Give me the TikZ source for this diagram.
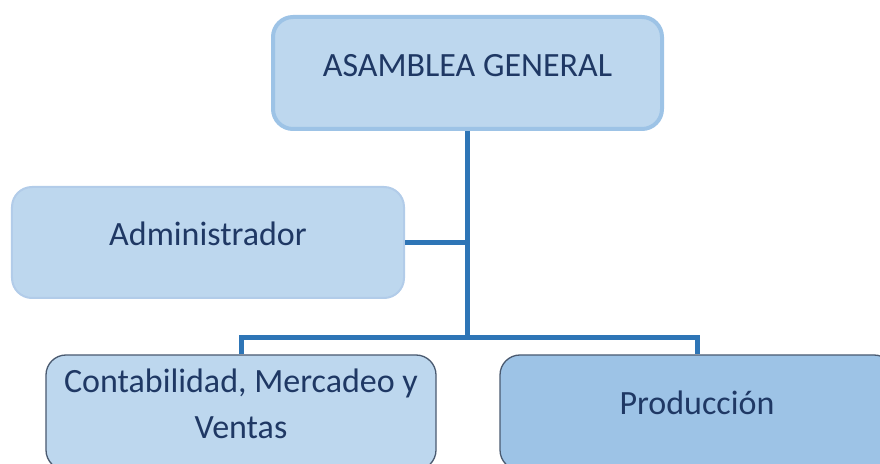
\documentclass[tikz,border=0pt]{standalone}
\usepackage{fontspec}
\setmainfont{Carlito}
\definecolor{boxfill}{HTML}{BDD7EE}
\definecolor{boxdark}{HTML}{9DC3E6}
\definecolor{edgelight}{HTML}{9DC3E6}
\definecolor{edgepale}{HTML}{B2CCE9}
\definecolor{edgegray}{HTML}{4A5A70}
\definecolor{linkblue}{HTML}{2E75B6}
\definecolor{textblue}{HTML}{1F3864}
\tikzset{
	unit/.style={rounded corners=20bp,fill=boxfill,inner sep=0pt,text=textblue,
		font=\fontsize{34bp}{46bp}\selectfont,align=center},
	link/.style={draw=linkblue,line width=5bp},
}

\begin{document}
\begin{tikzpicture}[x=1bp,y=-1bp]
	\clip (0,0) rectangle (880,464);
	\node[unit,draw=edgelight,line width=4bp,minimum width=389bp,minimum height=112bp,
		text height=22bp,text depth=14bp] (asamblea) at (467.5,73) {ASAMBLEA GENERAL};
	\node[unit,draw=edgepale,line width=2bp,minimum width=392bp,minimum height=111bp,
		text height=22bp,text depth=15bp] (admin) at (208,242.5) {Administrador};
	\node[unit,draw=edgegray,line width=1.3bp,minimum width=390bp,minimum height=115bp,
		text height=68bp,text depth=17bp] (contab) at (241,412.5) {Contabilidad, Mercadeo y\\Ventas};
	\node[unit,fill=boxdark,draw=edgegray,line width=1.3bp,minimum width=394bp,minimum height=115bp,
		text height=22bp,text depth=19bp] (prod) at (697,412.5) {Producción};
	\coordinate (hub) at (467.5,338);
	\path[link]
	(asamblea.south) edge (hub)
	(admin.east) edge (admin.east -| hub);
	\draw[link] (contab.north) |- (hub) -| (prod.north);
\end{tikzpicture}
\end{document}
